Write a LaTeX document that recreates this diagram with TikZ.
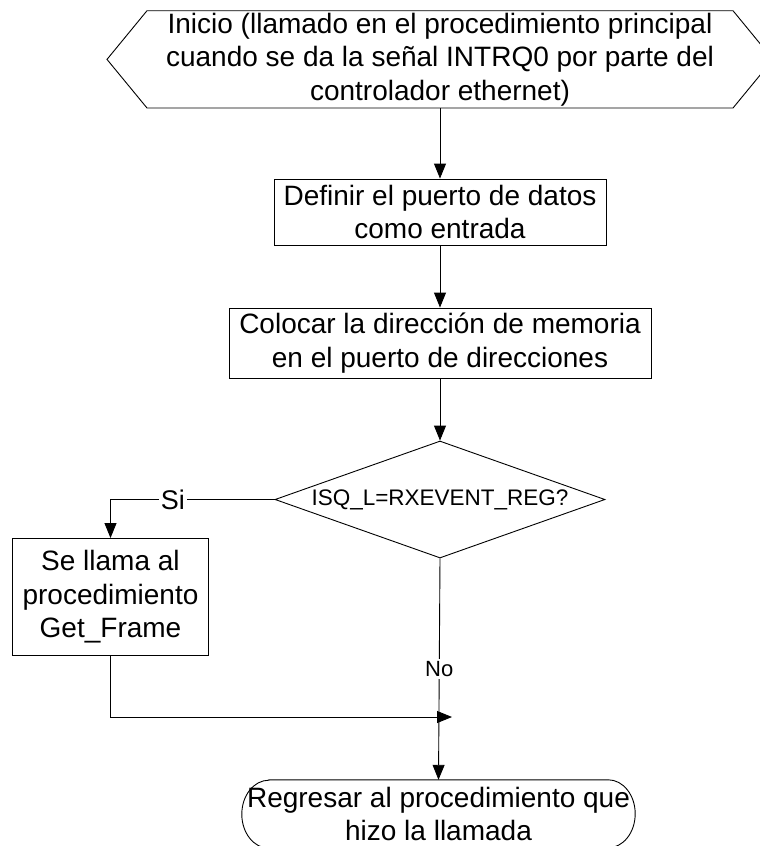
\documentclass[tikz,border=0pt]{standalone}
\usepackage{fontspec}
\setmainfont{Liberation Sans}
\usetikzlibrary{arrows.meta,shapes.geometric}
\begin{document}
\begin{tikzpicture}[x=1pt,y=-1pt,
  every node/.style={font=\fontsize{28}{33.5}\selectfont, align=center},
  box/.style={draw, line width=0.9pt, inner sep=0pt},
  shp/.style={line width=0.9pt},
  conn/.style={line width=0.9pt, -{Triangle[length=15pt,width=12pt]}},
  lbl/.style={fill=white, inner sep=2pt}]
\useasboundingbox (0,0) rectangle (760,846);
% start (hexagon)
\node[minimum height=97.3pt, inner sep=0pt] (start) at (440,59.4)
  {Inicio (llamado en el procedimiento principal\\cuando se da la señal INTRQ0 por parte del\\controlador ethernet)};
\draw[shp] (107,59.4) -- (147,10.7) -- (733,10.7) -- (773,59.4) -- (733,108) -- (147,108) -- cycle;
% process boxes
\node[box, minimum width=332pt, minimum height=66pt] (b1) at (440,212)
  {Definir el puerto de datos\\como entrada};
\node[box, minimum width=422pt, minimum height=70pt] (b2) at (440,343)
  {Colocar la dirección de memoria\\en el puerto de direcciones};
% decision
\node[draw, shp, diamond, aspect=2.8, minimum width=330pt, minimum height=117pt, inner sep=0pt,
  font=\fontsize{22.5}{26}\selectfont] (dec) at (440,499.5) {ISQ\_L=RXEVENT\_REG?};
\node[box, minimum width=196pt, minimum height=117pt] (b3) at (110.5,597)
  {Se llama al\\procedimiento\\Get\_Frame};
% terminal
\node[minimum width=393pt, minimum height=68pt, inner sep=0pt] (fin) at (438.5,814)
  {Regresar al procedimiento que\\hizo la llamada};
\draw[shp] ([xshift=27pt]fin.north west) -- ([xshift=-27pt]fin.north east)
  arc[start angle=90, end angle=-90, x radius=27pt, y radius=34pt]
  -- ([xshift=27pt]fin.south west)
  arc[start angle=-90, end angle=-270, x radius=27pt, y radius=34pt] -- cycle;
% connectors
\draw[conn] (start.south) -- (b1.north);
\draw[conn] (b1.south) -- (b2.north);
\draw[conn] (b2.south) -- (dec.north);
\draw[conn] (dec.west) -- (b3.north |- dec.west)
  node[pos=0.62, lbl, font=\fontsize{27}{30}\selectfont] {Si} -- (b3.north);
\draw[conn] (dec.south) -- node[lbl, font=\fontsize{22}{25}\selectfont] {No} (fin.north);
\coordinate (join) at (452,717);
\draw[conn] (b3.south) |- (join);
\end{tikzpicture}
\end{document}
